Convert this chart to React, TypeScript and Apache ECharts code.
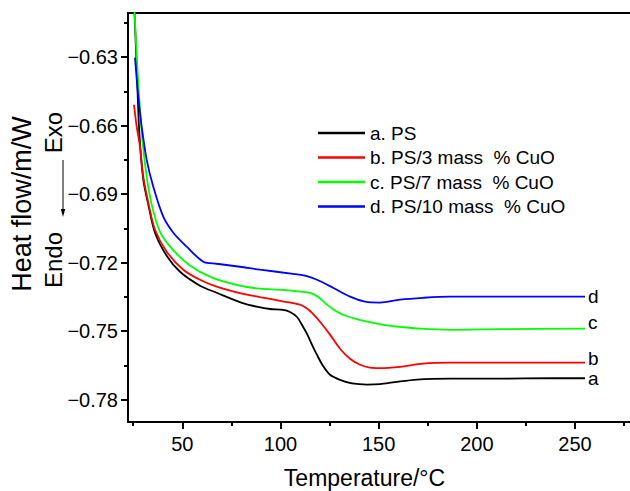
import React, { useEffect, useRef } from "react";
import * as echarts from "echarts";

const FONT = "Arial, 'Liberation Sans', Helvetica, sans-serif";

const seriesNames = [
  "a. PS",
  "b. PS/3 mass  % CuO",
  "c. PS/7 mass  % CuO",
  "d. PS/10 mass  % CuO",
];
const endTags = ["a", "b", "c", "d"];
const lineColors = ["#000000", "#ff0000", "#00ff00", "#0000ff"];
const endTagOffsets = [0, -4, -6, 0];

// a. PS
const tempA = [25.56, 26.78, 28.1, 30.14, 32.69, 36.1, 42.05, 48.83, 59.01, 67.52, 80.4, 88.55, 94.67, 101.29, 104.85, 108.42, 110.96, 113.51, 116.06, 118.6, 121.66, 125.22, 130.32, 136.43, 144.07, 150.69, 158.33, 169.53, 186.34, 211.8, 237.26, 255.09];
const flowA = [-0.6084, -0.6342, -0.6631, -0.6837, -0.6946, -0.7069, -0.717, -0.724, -0.7301, -0.7332, -0.7376, -0.7394, -0.7403, -0.7407, -0.7416, -0.7438, -0.7473, -0.7512, -0.756, -0.7604, -0.7652, -0.7691, -0.7713, -0.7729, -0.7734, -0.7732, -0.7723, -0.7712, -0.7708, -0.7708, -0.7706, -0.7706];

// b. PS/3 mass % CuO
const tempB = [25.4, 26.78, 28.46, 30.14, 32.69, 36.1, 42.05, 50.51, 59.01, 67.52, 80.4, 89.58, 99.77, 109.95, 113.51, 116.57, 120.13, 125.22, 130.32, 135.41, 140.5, 145.59, 150.69, 160.87, 172.58, 186.34, 211.8, 255.09];
const flowB = [-0.6509, -0.6605, -0.6693, -0.6824, -0.6938, -0.7056, -0.7152, -0.7231, -0.7275, -0.7305, -0.7336, -0.7351, -0.7367, -0.7384, -0.7401, -0.7424, -0.7459, -0.7515, -0.7577, -0.7621, -0.7647, -0.766, -0.7662, -0.7656, -0.7642, -0.7638, -0.7638, -0.7638];

// c. PS/7 mass % CuO
const tempC = [25.56, 27.09, 28.46, 29.83, 31.87, 34.42, 38.64, 44.75, 53.92, 65.13, 80.4, 89.58, 101.29, 109.95, 115.04, 119.12, 123.7, 127.78, 131.85, 137.96, 144.07, 153.24, 160.87, 171.06, 186.34, 211.8, 255.09];
const flowC = [-0.6084, -0.6342, -0.6531, -0.6675, -0.6824, -0.6946, -0.7065, -0.7139, -0.7213, -0.7266, -0.7303, -0.7314, -0.7319, -0.7327, -0.7332, -0.7349, -0.7384, -0.741, -0.7428, -0.7445, -0.7458, -0.7474, -0.7481, -0.7489, -0.7494, -0.7491, -0.7489];

// d. PS/10 mass % CuO
const tempD = [25.91, 27.59, 29.32, 31.87, 35.23, 40.32, 45.42, 52.24, 60.7, 67.52, 79.39, 89.58, 106.38, 112.49, 118.6, 126.75, 135.41, 143.05, 150.69, 160.87, 172.58, 186.34, 211.8, 255.09];
const flowD = [-0.6303, -0.6474, -0.6605, -0.675, -0.6868, -0.6999, -0.7069, -0.713, -0.7196, -0.7205, -0.7218, -0.7231, -0.7249, -0.7257, -0.7275, -0.731, -0.7349, -0.7371, -0.7375, -0.7362, -0.7354, -0.7349, -0.7349, -0.7349];

const temps = [tempA, tempB, tempC, tempD];
const flows = [flowA, flowB, flowC, flowD];

const xMajorTicks = [50, 100, 150, 200, 250];
const xMinorTicks = [25, 75, 125, 175, 225, 275];
const yMajorTicks = [-0.78, -0.75, -0.72, -0.69, -0.66, -0.63];
const yMinorTicks = [-0.765, -0.735, -0.705, -0.675, -0.645, -0.615];

const X_MIN = 22.35;
const X_MAX = 277.98;
const Y_MIN = -0.78976;
const Y_MAX = -0.61074;

export default function App() {
  const ref = useRef<HTMLDivElement>(null);

  useEffect(() => {
    if (!ref.current) return;
    const chart = echarts.init(ref.current, null, { renderer: "svg" });

    const axisCommon = {
      type: "value" as const,
      splitLine: { show: false },
    };

    const option: any = {
      animation: false,
      backgroundColor: "#ffffff",
      grid: {
        left: 128,
        top: 13,
        width: 502,
        height: 409,
        containLabel: false,
        outerBoundsMode: "none",
      },
      legend: {
        orient: "vertical",
        left: 318,
        top: 123.5,
        padding: 0,
        icon: "rect",
        itemWidth: 47,
        itemHeight: 2.5,
        itemGap: 5.5,
        data: seriesNames,
        textStyle: { fontSize: 19, color: "#000", fontFamily: FONT },
      },
      xAxis: [
        {
          ...axisCommon,
          min: X_MIN,
          max: X_MAX,
          position: "bottom",
          axisLine: { show: true, lineStyle: { color: "#000", width: 2 } },
          axisTick: {
            show: true,
            inside: false,
            length: 7,
            customValues: xMajorTicks,
            lineStyle: { color: "#000", width: 2 },
          },
          axisLabel: {
            show: true,
            customValues: xMajorTicks,
            fontSize: 20,
            margin: 12,
            color: "#000",
            fontFamily: FONT,
          },
        },
        {
          ...axisCommon,
          min: X_MIN,
          max: X_MAX,
          position: "bottom",
          axisLine: { show: false },
          axisTick: {
            show: true,
            inside: false,
            length: 4,
            customValues: xMinorTicks,
            lineStyle: { color: "#000", width: 2 },
          },
          axisLabel: { show: false },
        },
        {
          ...axisCommon,
          min: X_MIN,
          max: X_MAX,
          position: "top",
          axisLine: { show: true, lineStyle: { color: "#000", width: 2 } },
          axisTick: { show: false },
          axisLabel: { show: false },
        },
      ],
      yAxis: [
        {
          ...axisCommon,
          min: Y_MIN,
          max: Y_MAX,
          position: "left",
          axisLine: { show: true, lineStyle: { color: "#000", width: 2 } },
          axisTick: {
            show: true,
            inside: false,
            length: 7,
            customValues: yMajorTicks,
            lineStyle: { color: "#000", width: 2 },
          },
          axisLabel: {
            show: true,
            customValues: yMajorTicks,
            fontSize: 20,
            margin: 10,
            color: "#000",
            fontFamily: FONT,
            formatter: (v: number) => (v < 0 ? "\u2212" : "") + Math.abs(v).toFixed(2),
          },
        },
        {
          ...axisCommon,
          min: Y_MIN,
          max: Y_MAX,
          position: "left",
          axisLine: { show: false },
          axisTick: {
            show: true,
            inside: false,
            length: 4,
            customValues: yMinorTicks,
            lineStyle: { color: "#000", width: 2 },
          },
          axisLabel: { show: false },
        },
      ],
      series: seriesNames.map((name, i) => ({
        name,
        type: "line",
        xAxisIndex: 0,
        yAxisIndex: 0,
        data: temps[i].map((t, j) => [t, flows[i][j]]),
        showSymbol: false,
        symbol: "none",
        smooth: 0.3,
        clip: true,
        color: lineColors[i],
        lineStyle: { color: lineColors[i], width: 1.8 },
        endLabel: {
          show: true,
          formatter: endTags[i],
          color: "#000",
          fontSize: 19,
          fontFamily: FONT,
          distance: 3,
          offset: [0, endTagOffsets[i]],
        },
      })),
      graphic: [
        {
          type: "text",
          x: 22,
          y: 204,
          rotation: Math.PI / 2,
          style: {
            text: "Heat flow/m/W",
            fontSize: 27,
            fontFamily: FONT,
            fill: "#000",
            align: "center",
            verticalAlign: "middle",
          },
        },
        {
          type: "text",
          x: 53,
          y: 132.5,
          rotation: Math.PI / 2,
          style: {
            text: "Exo",
            fontSize: 24,
            fontFamily: FONT,
            fill: "#000",
            align: "center",
            verticalAlign: "middle",
          },
        },
        {
          type: "text",
          x: 53,
          y: 260,
          rotation: Math.PI / 2,
          style: {
            text: "Endo",
            fontSize: 24,
            fontFamily: FONT,
            fill: "#000",
            align: "center",
            verticalAlign: "middle",
          },
        },
        {
          type: "line",
          shape: { x1: 63, y1: 160, x2: 63, y2: 211 },
          style: { stroke: "#000", lineWidth: 1 },
        },
        {
          type: "polygon",
          shape: { points: [[60.8, 209], [65.2, 209], [63, 217]] },
          style: { fill: "#000" },
        },
        {
          type: "text",
          x: 364.5,
          y: 478,
          style: {
            text: "Temperature/\u00B0C",
            fontSize: 23,
            fontFamily: FONT,
            fill: "#000",
            align: "center",
            verticalAlign: "middle",
          },
        },
      ],
    };

    chart.setOption(option);
    return () => chart.dispose();
  }, []);

  return (
    <div
      ref={ref}
      style={{ position: "fixed", left: 0, top: 0, width: 630, height: 491, background: "#fff" }}
    />
  );
}
